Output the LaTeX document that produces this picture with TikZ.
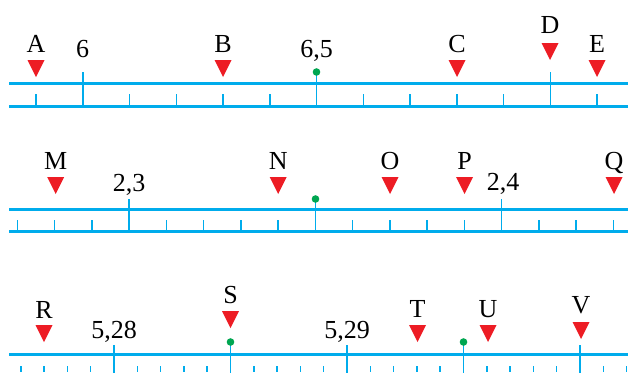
\documentclass[tikz,border=0pt]{standalone}
\usepackage{fontspec}
\setmainfont{Liberation Serif}
\usetikzlibrary{positioning}

\definecolor{axisblue}{RGB}{0,172,236}
\definecolor{markred}{RGB}{237,28,36}
\definecolor{dotgreen}{RGB}{0,166,81}

% red pointer with its tip at (#1,#2)
\newcommand{\mkpointer}[2]{\fill[pointer] (#1,#2) -- ++(-8.5,-17) -- ++(17,0) -- cycle;}

\begin{document}
\begin{tikzpicture}[x=1pt, y=-1pt, font=\fontsize{26}{30}\selectfont,
  axis/.style={axisblue, line width=3pt},
  tick/.style={axisblue, line width=1.5pt},
  pointer/.style={fill=markred},
  lbl/.style={anchor=base, inner sep=0pt},
  gdot/.style={fill=dotgreen}]
  \useasboundingbox (0,0) rectangle (628,373);

  % first line: 6 ... 6,5 ... 7
  \draw[axis] (9,83) -- (628,83);
  \draw[axis] (9,106) -- (628,106);
  \foreach \k in {0,2,3,4,5,7,8,9,10,12}
    \draw[tick] ({36+46.75*\k},94) -- ++(0,12);
  \foreach \k in {1,6,11}
    \draw[tick] ({36+46.75*\k},72) -- ++(0,34);
  \fill[gdot] (316.5,72) circle (3.8);

  \node[lbl] (n6) at (82.7,57) {6};
  \node[lbl] (n65) at (316.5,57) {6,5};
  \node[lbl] (A) at (36,52) {A};     \mkpointer{36}{77}
  \node[lbl] (B) at (223,52) {B};    \mkpointer{223}{77}
  \node[lbl] (C) at (457,52) {C};    \mkpointer{457}{77}
  \node[lbl] (D) at (550,33) {D};    \mkpointer{550}{60}
  \node[lbl] (E) at (597,52) {E};    \mkpointer{597}{77}

  % second line: 2,3 ... 2,4
  \draw[axis] (9,209) -- (628,209);
  \draw[axis] (9,231) -- (628,231);
  \foreach \k in {0,1,2,4,5,6,7,9,10,11,12,14,15,16}
    \draw[tick] ({129.2+37.25*(\k-3)},220) -- ++(0,11);
  \foreach \k in {3,8,13}
    \draw[tick] ({129.2+37.25*(\k-3)},199) -- ++(0,32);
  \fill[gdot] (315.5,199) circle (3.8);

  \node[lbl] (n23) at (129.2,191) {2,3};
  \node[lbl] (n24) at (503,190) {2,4};
  \node[lbl] (M) at (55.7,169) {M};   \mkpointer{55.7}{194}
  \node[lbl] (N) at (278.2,169) {N};  \mkpointer{278.2}{194}
  \node[lbl] (O) at (390,169) {O};    \mkpointer{390}{194}
  \node[lbl] (P) at (464.5,169) {P};  \mkpointer{464.5}{194}
  \node[lbl] (Q) at (614,169) {Q};    \mkpointer{614}{194}

  % third line: 5,28 ... 5,29 ... 5,30
  \draw[axis] (9,354) -- (628,354);
  \foreach \k in {-4,-3,-2,-1,1,2,3,4,6,7,8,9,11,12,13,14,16,17,18,19,21,22}
    \draw[tick] ({114+23.3*\k},366) -- ++(0,6);
  \foreach \k in {0,10,20}
    \draw[tick] ({114+23.3*\k},345) -- ++(0,28);
  \foreach \k in {5,15}
    \draw[tick] ({114+23.3*\k},342) -- ++(0,31);
  \fill[gdot] (230.5,342) circle (3.8);
  \fill[gdot] (463.5,342) circle (3.8);

  \node[lbl] (n528) at (114,338) {5,28};
  \node[lbl] (n529) at (347,338) {5,29};
  \node[lbl] (R) at (44,318) {R};     \mkpointer{44}{342}
  \node[lbl] (S) at (230.5,303) {S};  \mkpointer{230.5}{328}
  \node[lbl] (T) at (417.5,317) {T};  \mkpointer{417.5}{342}
  \node[lbl] (U) at (488,317) {U};    \mkpointer{488}{342}
  \node[lbl] (V) at (581,313) {V};    \mkpointer{581}{339}
\end{tikzpicture}
\end{document}
